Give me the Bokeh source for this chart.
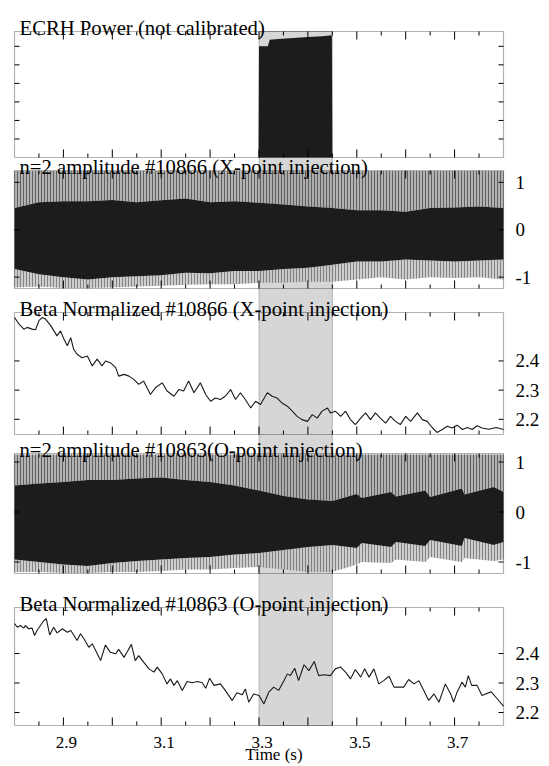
from math import pi
from bokeh.plotting import figure
from bokeh.models import Range1d, Label, BoxAnnotation
from bokeh.embed import file_html
from bokeh.resources import INLINE

# ---------------------------------------------------------------- data
time_range = [2.8, 3.8]
ecrh_window = [3.30, 3.45]

panel_titles = [
    "ECRH Power (not calibrated)",
    "n=2 amplitude #10866 (X-point injection)",
    "Beta Normalized #10866 (X-point injection)",
    "n=2 amplitude #10863(O-point injection)",
    "Beta Normalized #10863 (O-point injection)",
]

x_tick_labels = ["2.9", "3.1", "3.3", "3.5", "3.7"]
x_label_values = [2.9, 3.1, 3.3, 3.5, 3.7]
x_major_ticks = [2.9, 3.0, 3.1, 3.2, 3.3, 3.4, 3.5, 3.6, 3.7]
x_minor_ticks = [2.85, 2.95, 3.05, 3.15, 3.25, 3.35, 3.45, 3.55, 3.65, 3.75]
x_axis_title = "Time  (s)"

ecrh_y_ticks = [0.1, 0.2, 0.3, 0.4, 0.5, 0.6]
amp_y_ticks = [-1, 0, 1]
amp_y_labels = ["-1", "0", "1"]
beta_y_ticks = [2.2, 2.3, 2.4]
beta_y_labels = ["2.2", "2.3", "2.4"]

# ECRH power (arbitrary units)
ecrh_t = [2.80, 3.299, 3.300, 3.318, 3.322, 3.34, 3.37, 3.40, 3.43, 3.449, 3.450, 3.80]
ecrh_power = [0.0, 0.0, 0.60, 0.60, 0.635, 0.64, 0.645, 0.65, 0.655, 0.66, 0.0, 0.0]

# n=2 amplitude #10866 : envelopes of the dense signal
amp10866_t = [2.80, 2.85, 2.90, 2.95, 3.00, 3.05, 3.10, 3.15, 3.20, 3.25, 3.30,
              3.35, 3.40, 3.45, 3.50, 3.55, 3.60, 3.65, 3.70, 3.75, 3.80]
amp10866_core_hi = [0.46, 0.58, 0.60, 0.60, 0.63, 0.58, 0.62, 0.66, 0.58, 0.60, 0.57,
                    0.53, 0.49, 0.46, 0.41, 0.41, 0.38, 0.46, 0.47, 0.49, 0.46]
amp10866_core_lo = [-0.83, -0.94, -1.00, -1.05, -1.00, -0.98, -0.96, -0.91, -0.92, -0.87, -0.87,
                    -0.83, -0.80, -0.74, -0.67, -0.67, -0.63, -0.65, -0.67, -0.65, -0.63]
amp10866_spike_hi = [1.24, 1.24, 1.24, 1.24, 1.24, 1.24, 1.24, 1.24, 1.24, 1.24, 1.24,
                     1.24, 1.24, 1.24, 1.24, 1.24, 1.24, 1.24, 1.24, 1.24, 1.24]
amp10866_spike_lo = [-1.22, -1.20, -1.23, -1.23, -1.22, -1.20, -1.18, -1.16, -1.15, -1.15, -1.12,
                     -1.12, -1.10, -1.10, -1.05, -1.00, -1.05, -1.00, -1.02, -1.00, -1.05]

# n=2 amplitude #10863 : envelopes of the dense signal
amp10863_t = [2.80, 2.85, 2.90, 2.95, 3.00, 3.05, 3.10, 3.15, 3.20, 3.25, 3.30, 3.35,
              3.40, 3.45, 3.50, 3.51, 3.57, 3.58, 3.64, 3.65, 3.715, 3.72, 3.78, 3.80]
amp10863_core_hi = [0.53, 0.57, 0.60, 0.64, 0.64, 0.67, 0.69, 0.64, 0.60, 0.53, 0.43, 0.32,
                    0.25, 0.22, 0.36, 0.28, 0.40, 0.31, 0.43, 0.30, 0.47, 0.35, 0.50, 0.40]
amp10863_core_lo = [-0.95, -1.00, -1.05, -1.08, -1.02, -0.98, -0.95, -0.92, -0.90, -0.85, -0.82, -0.76,
                    -0.70, -0.66, -0.72, -0.62, -0.70, -0.60, -0.68, -0.56, -0.68, -0.52, -0.66, -0.60]
amp10863_spike_hi = [1.15, 1.15, 1.15, 1.15, 1.15, 1.15, 1.15, 1.15, 1.15, 1.15, 1.15, 1.15,
                     1.15, 1.15, 1.15, 1.15, 1.15, 1.15, 1.15, 1.15, 1.15, 1.15, 1.15, 1.15]
amp10863_spike_lo = [-1.20, -1.20, -1.22, -1.22, -1.20, -1.20, -1.18, -1.15, -1.15, -1.12, -1.10, -1.15,
                     -1.20, -1.20, -1.05, -1.00, -1.02, -0.95, -1.00, -0.90, -1.00, -0.92, -0.98, -0.95]

# Beta normalized #10866
beta10866_t = [
    2.800, 2.809, 2.819, 2.826, 2.836, 2.843, 2.850, 2.857, 2.863, 2.874,
    2.887, 2.894, 2.901, 2.908, 2.915, 2.921, 2.928, 2.938, 2.949, 2.959,
    2.969, 2.979, 2.986, 2.996, 3.007, 3.013, 3.024, 3.034, 3.044, 3.054,
    3.064, 3.078, 3.088, 3.102, 3.112, 3.126, 3.136, 3.146, 3.156, 3.167,
    3.180, 3.191, 3.201, 3.211, 3.221, 3.231, 3.242, 3.252, 3.262, 3.272,
    3.283, 3.293, 3.303, 3.317, 3.327, 3.337, 3.347, 3.358, 3.368, 3.378,
    3.388, 3.399, 3.409, 3.419, 3.429, 3.440, 3.446, 3.456, 3.467, 3.477,
    3.487, 3.497, 3.508, 3.518, 3.528, 3.538, 3.548, 3.559, 3.569, 3.579,
    3.589, 3.600, 3.610, 3.624, 3.634, 3.644, 3.654, 3.664, 3.675, 3.685,
    3.695, 3.705, 3.716, 3.726, 3.736, 3.746, 3.756, 3.770, 3.785, 3.800,
]
beta10866 = [
    2.549, 2.527, 2.509, 2.515, 2.509, 2.507, 2.538, 2.549, 2.544, 2.521,
    2.486, 2.503, 2.475, 2.452, 2.480, 2.440, 2.423, 2.411, 2.417, 2.383,
    2.406, 2.383, 2.400, 2.394, 2.377, 2.348, 2.354, 2.348, 2.337, 2.320,
    2.331, 2.285, 2.308, 2.325, 2.297, 2.279, 2.302, 2.297, 2.331, 2.291,
    2.325, 2.285, 2.262, 2.273, 2.268, 2.279, 2.302, 2.268, 2.291, 2.268,
    2.239, 2.262, 2.251, 2.291, 2.279, 2.273, 2.256, 2.245, 2.228, 2.210,
    2.199, 2.193, 2.216, 2.204, 2.228, 2.239, 2.222, 2.228, 2.210, 2.228,
    2.199, 2.182, 2.204, 2.222, 2.199, 2.222, 2.204, 2.187, 2.210, 2.193,
    2.182, 2.210, 2.193, 2.222, 2.199, 2.193, 2.172, 2.155, 2.165, 2.176,
    2.170, 2.180, 2.165, 2.172, 2.165, 2.178, 2.170, 2.166, 2.172, 2.165,
]

# Beta normalized #10863
beta10863_t = [
    2.800, 2.806, 2.812, 2.819, 2.822, 2.829, 2.836, 2.841, 2.846, 2.853,
    2.860, 2.865, 2.872, 2.880, 2.887, 2.898, 2.908, 2.915, 2.921, 2.928,
    2.935, 2.942, 2.952, 2.959, 2.966, 2.976, 2.986, 2.996, 3.007, 3.013,
    3.024, 3.030, 3.039, 3.047, 3.054, 3.064, 3.075, 3.085, 3.092, 3.102,
    3.112, 3.119, 3.126, 3.133, 3.143, 3.153, 3.163, 3.174, 3.184, 3.191,
    3.199, 3.208, 3.221, 3.231, 3.245, 3.255, 3.266, 3.272, 3.279, 3.289,
    3.300, 3.310, 3.320, 3.330, 3.340, 3.351, 3.358, 3.364, 3.373, 3.381,
    3.392, 3.402, 3.413, 3.422, 3.433, 3.446, 3.456, 3.467, 3.477, 3.487,
    3.497, 3.508, 3.516, 3.525, 3.535, 3.545, 3.555, 3.566, 3.576, 3.596,
    3.606, 3.617, 3.627, 3.637, 3.647, 3.658, 3.668, 3.681, 3.692, 3.698,
    3.705, 3.715, 3.722, 3.728, 3.735, 3.746, 3.756, 3.763, 3.775, 3.788,
    3.800,
]
beta10863 = [
    2.501, 2.489, 2.495, 2.486, 2.495, 2.484, 2.486, 2.461, 2.478, 2.495,
    2.512, 2.518, 2.463, 2.489, 2.470, 2.484, 2.472, 2.478, 2.463, 2.444,
    2.467, 2.450, 2.421, 2.433, 2.410, 2.376, 2.429, 2.404, 2.399, 2.414,
    2.387, 2.404, 2.431, 2.376, 2.393, 2.371, 2.348, 2.337, 2.354, 2.331,
    2.297, 2.314, 2.292, 2.308, 2.275, 2.305, 2.301, 2.305, 2.301, 2.282,
    2.316, 2.292, 2.297, 2.275, 2.241, 2.267, 2.260, 2.280, 2.235, 2.263,
    2.258, 2.229, 2.269, 2.286, 2.275, 2.308, 2.331, 2.325, 2.350, 2.308,
    2.362, 2.342, 2.373, 2.325, 2.328, 2.325, 2.348, 2.354, 2.337, 2.314,
    2.346, 2.320, 2.348, 2.320, 2.348, 2.297, 2.308, 2.323, 2.286, 2.286,
    2.312, 2.297, 2.308, 2.275, 2.241, 2.263, 2.235, 2.297, 2.263, 2.235,
    2.269, 2.303, 2.286, 2.325, 2.292, 2.292, 2.258, 2.263, 2.270, 2.245,
    2.222,
]

# ---------------------------------------------------------------- layout
SERIF = "Liberation Serif"
W, H = 549, 766
PANEL_L, PANEL_R = 14, 503          # pixel columns of the panel frames

# name: (top px, bottom px, axis low, axis high)
panels = {
    "ecrh":   (31, 157, 0.0, 0.68),
    "amp66":  (170, 288, -1.24, 1.25),
    "beta66": (312, 434, 2.148, 2.566),
    "amp63":  (453, 573, -1.23, 1.17),
    "beta63": (607, 725, 2.156, 2.556),
}
order = ["ecrh", "amp66", "beta66", "amp63", "beta63"]

x0, x1 = time_range
xs = (x1 - x0) / (PANEL_R - PANEL_L)
x_range = Range1d(x0 - PANEL_L * xs, x1 + (W - PANEL_R) * xs)


def full_range(top, bot, lo, hi):
    s = (hi - lo) / (bot - top)
    return Range1d(lo - (H - bot) * s, hi + top * s)


ranges = {n: full_range(*panels[n]) for n in order}


def y_at(name, px):
    r = ranges[name]
    return r.end - px * (r.end - r.start) / H


p = figure(width=W, height=H, output_backend="svg", toolbar_location=None,
           x_range=x_range, y_range=Range1d(0, 1),
           min_border_left=0, min_border_right=0, min_border_top=0, min_border_bottom=0,
           x_axis_location=None, y_axis_location=None, title=None)
p.outline_line_color = None
p.xgrid.visible = False
p.ygrid.visible = False
p.background_fill_color = "white"
p.border_fill_color = "white"
p.extra_y_ranges = ranges

# ECRH window shading from the top of panel 1 to the bottom of panel 5
p.add_layout(BoxAnnotation(left=ecrh_window[0], right=ecrh_window[1],
                           bottom=panels["beta63"][2], top=y_at("beta63", panels["ecrh"][0]),
                           y_range_name="beta63",
                           fill_color="#d6d6d6", fill_alpha=1.0,
                           line_color="#3a3a3a", line_width=1, level="underlay"))

# panel 1: ECRH power
p.varea(x=ecrh_t, y1=0, y2=ecrh_power, fill_color="#1c1c1c", y_range_name="ecrh")


def amplitude(name, t, core_lo, core_hi, spike_lo, spike_hi):
    p.varea(x=t, y1=core_hi, y2=spike_hi, y_range_name=name,
            fill_color="#a4a4a4", fill_alpha=0.85,
            hatch_pattern="vertical_line", hatch_scale=3, hatch_weight=1,
            hatch_color="#444444", hatch_alpha=0.75)
    p.varea(x=t, y1=spike_lo, y2=core_lo, y_range_name=name,
            fill_color="#c4c4c4", fill_alpha=0.85,
            hatch_pattern="vertical_line", hatch_scale=3, hatch_weight=1,
            hatch_color="#5a5a5a", hatch_alpha=0.65)
    p.varea(x=t, y1=core_lo, y2=core_hi, y_range_name=name, fill_color="#1c1c1c")


amplitude("amp66", amp10866_t, amp10866_core_lo, amp10866_core_hi,
          amp10866_spike_lo, amp10866_spike_hi)
amplitude("amp63", amp10863_t, amp10863_core_lo, amp10863_core_hi,
          amp10863_spike_lo, amp10863_spike_hi)

p.line(beta10866_t, beta10866, line_color="#1a1a1a", line_width=1.1, y_range_name="beta66")
p.line(beta10863_t, beta10863, line_color="#1a1a1a", line_width=1.1, y_range_name="beta63")

y_ticks = {"ecrh": (ecrh_y_ticks, None), "amp66": (amp_y_ticks, amp_y_labels),
           "beta66": (beta_y_ticks, beta_y_labels), "amp63": (amp_y_ticks, amp_y_labels),
           "beta63": (beta_y_ticks, beta_y_labels)}

for name, title in zip(order, panel_titles):
    top, bot, lo, hi = panels[name]
    # frame
    p.add_layout(BoxAnnotation(left=x0, right=x1, bottom=lo, top=hi, y_range_name=name,
                               fill_alpha=0, line_color="black", line_width=1.2))
    # inward x ticks on top and bottom edges
    for ticks, ln in ((x_major_ticks, 8), (x_minor_ticks, 4)):
        p.ray(x=ticks, y=[hi] * len(ticks), length=ln, angle=-pi / 2, length_units="screen",
              line_color="black", line_width=1, y_range_name=name)
        p.ray(x=ticks, y=[lo] * len(ticks), length=ln, angle=pi / 2, length_units="screen",
              line_color="black", line_width=1, y_range_name=name)
    # inward y ticks on both sides
    yt, yl = y_ticks[name]
    p.ray(x=[x0] * len(yt), y=yt, length=5, angle=0, length_units="screen",
          line_color="black", line_width=1, y_range_name=name)
    p.ray(x=[x1] * len(yt), y=yt, length=5, angle=pi, length_units="screen",
          line_color="black", line_width=1, y_range_name=name)
    if yl is not None:
        for v, s in zip(yt, yl):
            p.add_layout(Label(x=x1, y=v, x_offset=12, y_range_name=name, text=s,
                               text_font=SERIF, text_font_size="19px", text_color="black",
                               text_align="left", text_baseline="middle"))
    # panel title
    p.add_layout(Label(x=x0, y=hi, x_offset=5, y_offset=4, y_range_name=name, text=title,
                       text_font=SERIF, text_font_size="20.7px", text_color="black",
                       text_align="left", text_baseline="alphabetic"))

# time axis tick labels and title under the last panel
lo5 = panels["beta63"][2]
for v, s in zip(x_label_values, x_tick_labels):
    p.add_layout(Label(x=v, y=lo5, x_offset=3, y_offset=-17, y_range_name="beta63", text=s,
                       text_font=SERIF, text_font_size="17px", text_color="black",
                       text_align="center", text_baseline="alphabetic"))
p.add_layout(Label(x=(x0 + x1) / 2, y=lo5, x_offset=17, y_offset=-29, y_range_name="beta63",
                   text=x_axis_title, text_font=SERIF, text_font_size="17px",
                   text_color="black", text_align="center", text_baseline="alphabetic"))

open("out.html", "w").write(file_html(p, INLINE))
